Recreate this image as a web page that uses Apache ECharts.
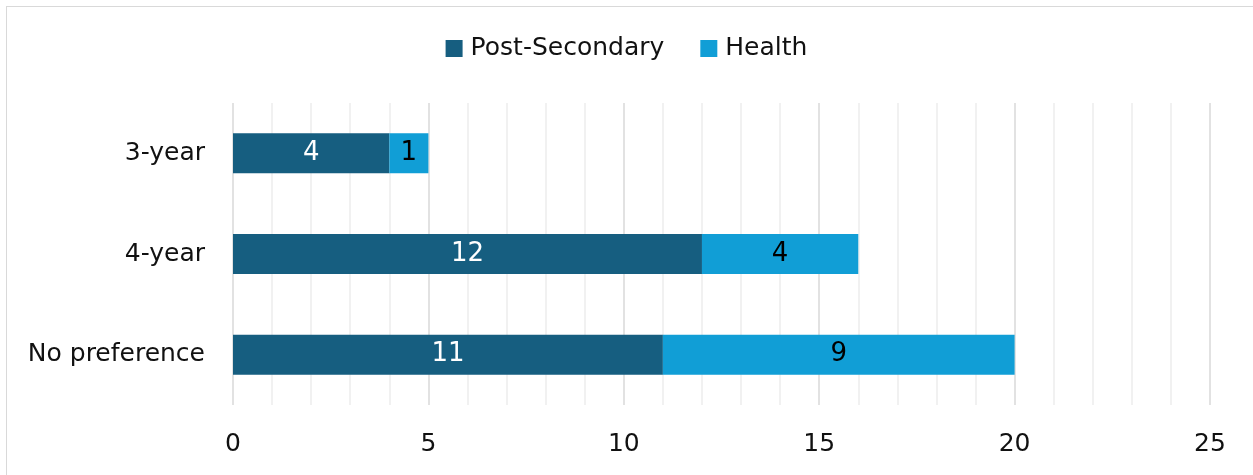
<!DOCTYPE html>
<html>
<head>
<meta charset="utf-8">
<script src="https://cdn.jsdelivr.net/npm/echarts@6/dist/echarts.min.js"></script>
<style>
  html, body { margin: 0; padding: 0; background: #fff; overflow: hidden; }
  #chart { position: absolute; left: 0; top: 0; width: 1253px; height: 475px; }
  #frame { position: absolute; left: 6px; top: 6px; width: 1247px; height: 469px;
           border-left: 1.5px solid #d9d9d9; border-top: 1.5px solid #d9d9d9;
           pointer-events: none; }
</style>
</head>
<body>
<div id="chart"></div>
<div id="frame"></div>
<script>
var categories = ['3-year', '4-year', 'No preference'];
var postSecondary = [4, 12, 11];
var health = [1, 4, 9];
var xTicks = [0, 5, 10, 15, 20, 25];

var myChart = echarts.init(document.getElementById('chart'));
var font = 'DejaVu Sans, sans-serif';

var option = {
    color: ['#165e80', '#119ed6'],
    animation: false,
    legend: {
        top: 31,
        left: 'center',
        itemWidth: 17,
        itemHeight: 17,
        itemGap: 36,
        icon: 'rect',
        data: ['Post-Secondary', 'Health'],
        textStyle: {
            fontFamily: font,
            fontSize: 25,
            color: '#111',
            padding: [0, 0, 0, 3]
        }
    },
    grid: {
        left: 233,
        right: 43,
        top: 103,
        bottom: 70,
        containLabel: false
    },
    xAxis: {
        type: 'value',
        min: xTicks[0],
        max: xTicks[xTicks.length - 1],
        interval: 5,
        axisLine: { show: false },
        axisTick: { show: false },
        axisLabel: {
            margin: 27,
            fontFamily: font,
            fontSize: 25,
            color: '#111'
        },
        splitLine: { show: true, lineStyle: { color: '#d9d9d9', width: 1.5 } },
        minorTick: { show: false, splitNumber: 5 },
        minorSplitLine: { show: true, lineStyle: { color: '#ededed', width: 1.5 } }
    },
    yAxis: {
        type: 'category',
        inverse: true,
        data: categories,
        axisLine: { show: false },
        axisTick: { show: false },
        axisLabel: {
            margin: 28,
            fontFamily: font,
            fontSize: 25,
            color: '#111'
        }
    },
    series: [
        {
            name: 'Post-Secondary',
            type: 'bar',
            stack: 'total',
            barWidth: 40,
            data: postSecondary,
            label: {
                show: true,
                position: 'inside',
                fontFamily: font,
                fontSize: 26,
                color: '#fff'
            }
        },
        {
            name: 'Health',
            type: 'bar',
            stack: 'total',
            barWidth: 40,
            data: health,
            label: {
                show: true,
                position: 'inside',
                fontFamily: font,
                fontSize: 26,
                color: '#000'
            }
        }
    ]
};

myChart.setOption(option);
</script>
</body>
</html>
